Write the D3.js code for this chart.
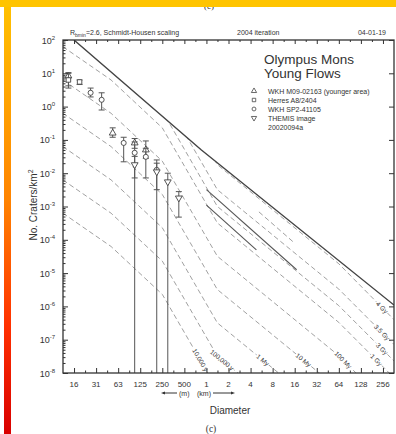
<!DOCTYPE html>
<html><head><meta charset="utf-8">
<script src="https://cdn.jsdelivr.net/npm/d3@7"></script>
<style>
body{margin:0;background:#fff;overflow:hidden;}
text{font-family:"Liberation Sans", Arial, sans-serif;fill:#333;}
</style></head><body>
<script>
// isochron nodes (diameter km) and crater densities per age
const isoD = [0.011, 0.05, 0.25, 1.41, 64, 362];
const iso4Gy   = [3.5e3, 350, 13, 1.8e-2, 1.9e-5, 4.0e-7];
const iso35Gy  = [630, 63, 2.3, 3.2e-3, 3.3e-6, 7.2e-8];
const iso3Gy   = [200, 20, 0.74, 1.0e-3, 1.05e-6, 2.3e-8];
const iso1Gy   = [63, 6.3, 0.23, 3.2e-4, 3.3e-7, 7.2e-9];
const iso100My = [6.3, 0.63, 2.3e-2, 3.2e-5, 3.3e-8, 7.2e-10];
const iso10My  = [0.63, 6.3e-2, 2.3e-3, 3.2e-6, 3.3e-9, 7.2e-11];
const iso1My   = [6.3e-2, 6.3e-3, 2.3e-4, 3.2e-7, 3.3e-10, 7.2e-12];
const iso100ky = [6.3e-3, 6.3e-4, 2.3e-5, 3.2e-8, 3.3e-11, 7.2e-13];
const iso10ky  = [6.3e-4, 6.3e-5, 2.3e-6, 3.2e-9, 3.3e-12, 7.2e-14];
const isoNames = ["4 Gy", "3.5 Gy", "3 Gy", "1 Gy", "100 My", "10 My", "1 My", "100,000 y", "10,000 y"];
const isoSets = [iso4Gy, iso35Gy, iso3Gy, iso1Gy, iso100My, iso10My, iso1My, iso100ky, iso10ky];

// saturation equilibrium
const satD = [0.0156, 0.854, 362];
const satN = [100, 0.05, 1.1e-6];

// other solid / dashed fit segments
const fitSolidA = [[1, 3.2e-3], [17, 1.26e-5]];
const fitSolidB = [[1, 1.1e-3], [4.8, 5e-5]];
const fitDashA  = [[5.2, 6.9e-4], [16, 7.9e-5]];

// crater counts: [D km, N, upper, lower]  (lower 0 = down to axis)
const triCounts = [[0.0131, 8.3, 10.5, 4.2], [0.0526, 0.16, 0.23, 0.12], [0.105, 0.081, 0.11, 0.056], [0.149, 0.05, 0.093, 0.028]];
const sqCounts  = [[0.0131, 6.3, 10, 3.6], [0.0186, 5.5, 6.3, 4.6]];
const cirCounts = [[0.0263, 2.6, 3.6, 1.95], [0.0372, 1.6, 2.6, 0.79], [0.0743, 0.081, 0.12, 0.022], [0.105, 0.041, 0.087, 0], [0.149, 0.031, 0.056, 0.0072], [0.210, 0.0126, 0.025, 0]];
const invCounts = [[0.105, 0.018, 0.032, 0.0072], [0.210, 0.011, 0.02, 0.0032], [0.297, 0.0055, 0.01, 0], [0.42, 0.0018, 0.0028, 0.00048]];

const xTickVals = [1/64, 1/32, 1/16, 1/8, 1/4, 1/2, 1, 2, 4, 8, 16, 32, 64, 128, 256];
const xTickLabels = ["16", "31", "63", "125", "250", "500", "1", "2", "4", "8", "16", "32", "64", "128", "256"];
const yDecades = [2, 1, 0, -1, -2, -3, -4, -5, -6, -7, -8];

const legendNames = ["WKH M09-02163 (younger area)", "Herres A8/2404", "WKH SP2-41105", "THEMIS image"];

const W = 396, H = 434;
const L = 63, R = 394, T = 40, B = 373;

const svg = d3.select("body").append("svg").attr("width", W).attr("height", H);

const x = d3.scaleLog().base(2).domain([2 ** -6.5, 2 ** 8.5]).range([L, R]);
const y = d3.scaleLog().domain([1e-8, 1e2]).range([B, T]);

// frame border decoration
const grad = svg.append("defs").append("linearGradient").attr("id", "edge")
  .attr("x1", 0).attr("y1", 0).attr("x2", 0).attr("y2", 1);
grad.append("stop").attr("offset", "0%").attr("stop-color", "#ffc000");
grad.append("stop").attr("offset", "45%").attr("stop-color", "#ff8400");
grad.append("stop").attr("offset", "75%").attr("stop-color", "#ff3000");
grad.append("stop").attr("offset", "100%").attr("stop-color", "#d80000");

svg.append("text").attr("x", 209).attr("y", 9).attr("text-anchor", "middle")
  .style("font-family", "Liberation Serif").style("font-size", "9px").text("(c)");
svg.append("rect").attr("x", 0).attr("y", 0).attr("width", W).attr("height", 7).attr("fill", "#ffc400");
svg.append("rect").attr("x", 4).attr("y", 7).attr("width", 7).attr("height", H - 7).attr("fill", "url(#edge)");

const defs = svg.select("defs");
defs.append("clipPath").attr("id", "plot").append("rect")
  .attr("x", L).attr("y", T).attr("width", R - L).attr("height", B - T);
const satPts = satD.map((d, i) => [x(d), y(satN[i])]);
defs.append("clipPath").attr("id", "belowSat").append("polygon")
  .attr("points", [[L, T], ...satPts, [R, satPts[satPts.length - 1][1]], [R, B], [L, B]].map(p => p.join(",")).join(" "));

const line = d3.line().x(d => x(d[0])).y(d => y(d[1]));

// isochrons
const isoG = svg.append("g").attr("clip-path", "url(#belowSat)");
isoSets.forEach(vals => {
  isoG.append("path").datum(isoD.map((d, i) => [d, vals[i]]))
    .attr("d", line).attr("fill", "none").attr("stroke", "#a0a0a0")
    .attr("stroke-width", 1).attr("stroke-dasharray", "5,3");
});

// fit segments
const fitG = svg.append("g").attr("clip-path", "url(#plot)");
[fitSolidA, fitSolidB].forEach(s => fitG.append("path").datum(s).attr("d", line)
  .attr("fill", "none").attr("stroke", "#555").attr("stroke-width", 1.1));
fitG.append("path").datum(fitDashA).attr("d", line).attr("fill", "none")
  .attr("stroke", "#a0a0a0").attr("stroke-dasharray", "5,3");

// saturation line
fitG.append("path").datum(satD.map((d, i) => [d, satN[i]])).attr("d", line)
  .attr("fill", "none").attr("stroke", "#444").attr("stroke-width", 1.4);

// isochron labels
isoSets.forEach((vals, k) => {
  const pts = isoD.map((d, i) => [x(d), y(vals[i])]);
  const yT = 360, xMax = 382;
  let px = null, py = null, ang = 45;
  for (let i = 0; i < pts.length - 1; i++) {
    const [x0, y0] = pts[i], [x1, y1] = pts[i + 1];
    const a = Math.atan2(y1 - y0, x1 - x0) * 180 / Math.PI;
    if (y0 <= yT && y1 >= yT) {
      const t = (yT - y0) / (y1 - y0);
      const cx = x0 + t * (x1 - x0);
      if (cx <= xMax) { px = cx; py = yT; ang = a; break; }
    }
    if (x0 <= xMax && x1 >= xMax) {
      const t = (xMax - x0) / (x1 - x0);
      px = xMax; py = y0 + t * (y1 - y0); ang = a; break;
    }
  }
  svg.append("text").attr("transform", `translate(${px},${py}) rotate(${ang})`)
    .attr("text-anchor", "middle").attr("dy", "0.35em")
    .style("font-size", "6.5px").style("paint-order", "stroke")
    .attr("stroke", "#fff").attr("stroke-width", 2.5)
    .text(isoNames[k]);
});

// error bars and symbols
const shapes = [
  {data: triCounts, type: d3.symbolTriangle, rot: 0},
  {data: sqCounts, type: d3.symbolSquare, rot: 0},
  {data: cirCounts, type: d3.symbolCircle, rot: 0},
  {data: invCounts, type: d3.symbolTriangle, rot: 180}
];
const ptG = svg.append("g").attr("clip-path", "url(#plot)");
shapes.forEach(s => {
  s.data.forEach(([d, n, hi, lo]) => {
    const cx = x(d);
    const yLo = lo > 0 ? y(lo) : B;
    ptG.append("line").attr("x1", cx).attr("x2", cx).attr("y1", y(hi)).attr("y2", yLo)
      .attr("stroke", "#555").attr("stroke-width", 1);
    ptG.append("line").attr("x1", cx - 3).attr("x2", cx + 3).attr("y1", y(hi)).attr("y2", y(hi))
      .attr("stroke", "#555");
    if (lo > 0) ptG.append("line").attr("x1", cx - 3).attr("x2", cx + 3).attr("y1", yLo).attr("y2", yLo)
      .attr("stroke", "#555");
  });
  ptG.selectAll(null).data(s.data).join("path")
    .attr("transform", d => `translate(${x(d[0])},${y(d[1])}) rotate(${s.rot})`)
    .attr("d", d3.symbol().type(s.type).size(20))
    .attr("fill", "#fff").attr("stroke", "#444").attr("stroke-width", 0.9);
});

// axes
const minorX = d3.range(-5.5, 8.5, 1).map(e => 2 ** e);
const minorY = [];
for (let e = -8; e < 2; e++) for (let m = 2; m < 10; m++) minorY.push(m * 10 ** e);
const decVals = yDecades.map(e => 10 ** e);

const axStyle = g => { g.select(".domain").remove(); g.selectAll("line").attr("stroke", "#333"); g.selectAll("text").remove(); };
svg.append("g").attr("transform", `translate(0,${B})`).call(d3.axisBottom(x).tickValues(xTickVals).tickSize(-5)).call(axStyle);
svg.append("g").attr("transform", `translate(0,${B})`).call(d3.axisBottom(x).tickValues(minorX).tickSize(-2.5)).call(axStyle);
svg.append("g").attr("transform", `translate(0,${T})`).call(d3.axisTop(x).tickValues(xTickVals).tickSize(-4)).call(axStyle);
svg.append("g").attr("transform", `translate(0,${T})`).call(d3.axisTop(x).tickValues(minorX).tickSize(-2)).call(axStyle);
svg.append("g").attr("transform", `translate(${L},0)`).call(d3.axisLeft(y).tickValues(decVals).tickSize(-5)).call(axStyle);
svg.append("g").attr("transform", `translate(${L},0)`).call(d3.axisLeft(y).tickValues(minorY).tickSize(-2.5)).call(axStyle);
svg.append("g").attr("transform", `translate(${R},0)`).call(d3.axisRight(y).tickValues(decVals).tickSize(-5)).call(axStyle);

svg.append("rect").attr("x", L).attr("y", T).attr("width", R - L).attr("height", B - T)
  .attr("fill", "none").attr("stroke", "#333").attr("stroke-width", 1.3);

// tick labels
svg.append("g").selectAll("text").data(xTickVals).join("text")
  .attr("x", d => x(d)).attr("y", B + 14).attr("text-anchor", "middle")
  .style("font-size", "8px").text((d, i) => xTickLabels[i]);
const yl = svg.append("g").selectAll("text").data(yDecades).join("text")
  .attr("x", 55).attr("y", e => y(10 ** e) + 3.5).attr("text-anchor", "end").style("font-size", "9px");
yl.append("tspan").text("10");
yl.append("tspan").attr("dy", -4).style("font-size", "6px").text(e => e < 0 ? "-" + (-e) : e);

// titles
const t1 = svg.append("text").attr("x", 70).attr("y", 35).style("font-size", "7px");
t1.append("tspan").text("R");
t1.append("tspan").attr("dy", 1.5).style("font-size", "5px").text("bmin");
t1.append("tspan").attr("dy", -1.5).text("=2.6, Schmidt-Housen scaling");
svg.append("text").attr("x", 237).attr("y", 35).style("font-size", "7px").text("2004 iteration");
svg.append("text").attr("x", 386).attr("y", 35).attr("text-anchor", "end").style("font-size", "7px").text("04-01-19");

const yt = svg.append("text").attr("transform", "translate(37,205) rotate(-90)")
  .attr("text-anchor", "middle").style("font-size", "10px");
yt.append("tspan").text("No. Craters/km");
yt.append("tspan").attr("dy", -4).style("font-size", "7px").text("2");

svg.append("text").attr("x", 230).attr("y", 414).attr("text-anchor", "middle").style("font-size", "10px").text("Diameter");
svg.append("text").attr("x", 211).attr("y", 432).attr("text-anchor", "middle")
  .style("font-family", "Liberation Serif").style("font-size", "9.5px").text("(c)");

// unit arrows
const arr = svg.append("g").attr("stroke", "#333").attr("fill", "#333");
arr.append("line").attr("x1", 163).attr("x2", 177).attr("y1", 393).attr("y2", 393);
arr.append("path").attr("d", "M161,393 l4,-1.6 v3.2 z").attr("stroke", "none");
svg.append("text").attr("x", 179).attr("y", 396).style("font-size", "7px").text("(m)");
svg.append("text").attr("x", 197).attr("y", 396).style("font-size", "7px").text("(km)");
arr.append("line").attr("x1", 213).attr("x2", 232).attr("y1", 393).attr("y2", 393);
arr.append("path").attr("d", "M235,393 l-4,-1.6 v3.2 z").attr("stroke", "none");

// legend
svg.append("text").attr("x", 264).attr("y", 64).style("font-size", "13.5px").text("Olympus Mons");
svg.append("text").attr("x", 264).attr("y", 78).style("font-size", "13.5px").text("Young Flows");
const legShapes = [[d3.symbolTriangle, 0], [d3.symbolSquare, 0], [d3.symbolCircle, 0], [d3.symbolTriangle, 180]];
legendNames.forEach((name, i) => {
  const ly = 91 + i * 9;
  svg.append("path").attr("transform", `translate(254,${ly}) rotate(${legShapes[i][1]})`)
    .attr("d", d3.symbol().type(legShapes[i][0]).size(12))
    .attr("fill", "#fff").attr("stroke", "#444").attr("stroke-width", 0.8);
  svg.append("text").attr("x", 268).attr("y", ly + 2.5).style("font-size", "7px").text(name);
});
svg.append("text").attr("x", 268).attr("y", 91 + 4 * 9 + 2.5).style("font-size", "7px").text("20020094a");
</script>
</body></html>
